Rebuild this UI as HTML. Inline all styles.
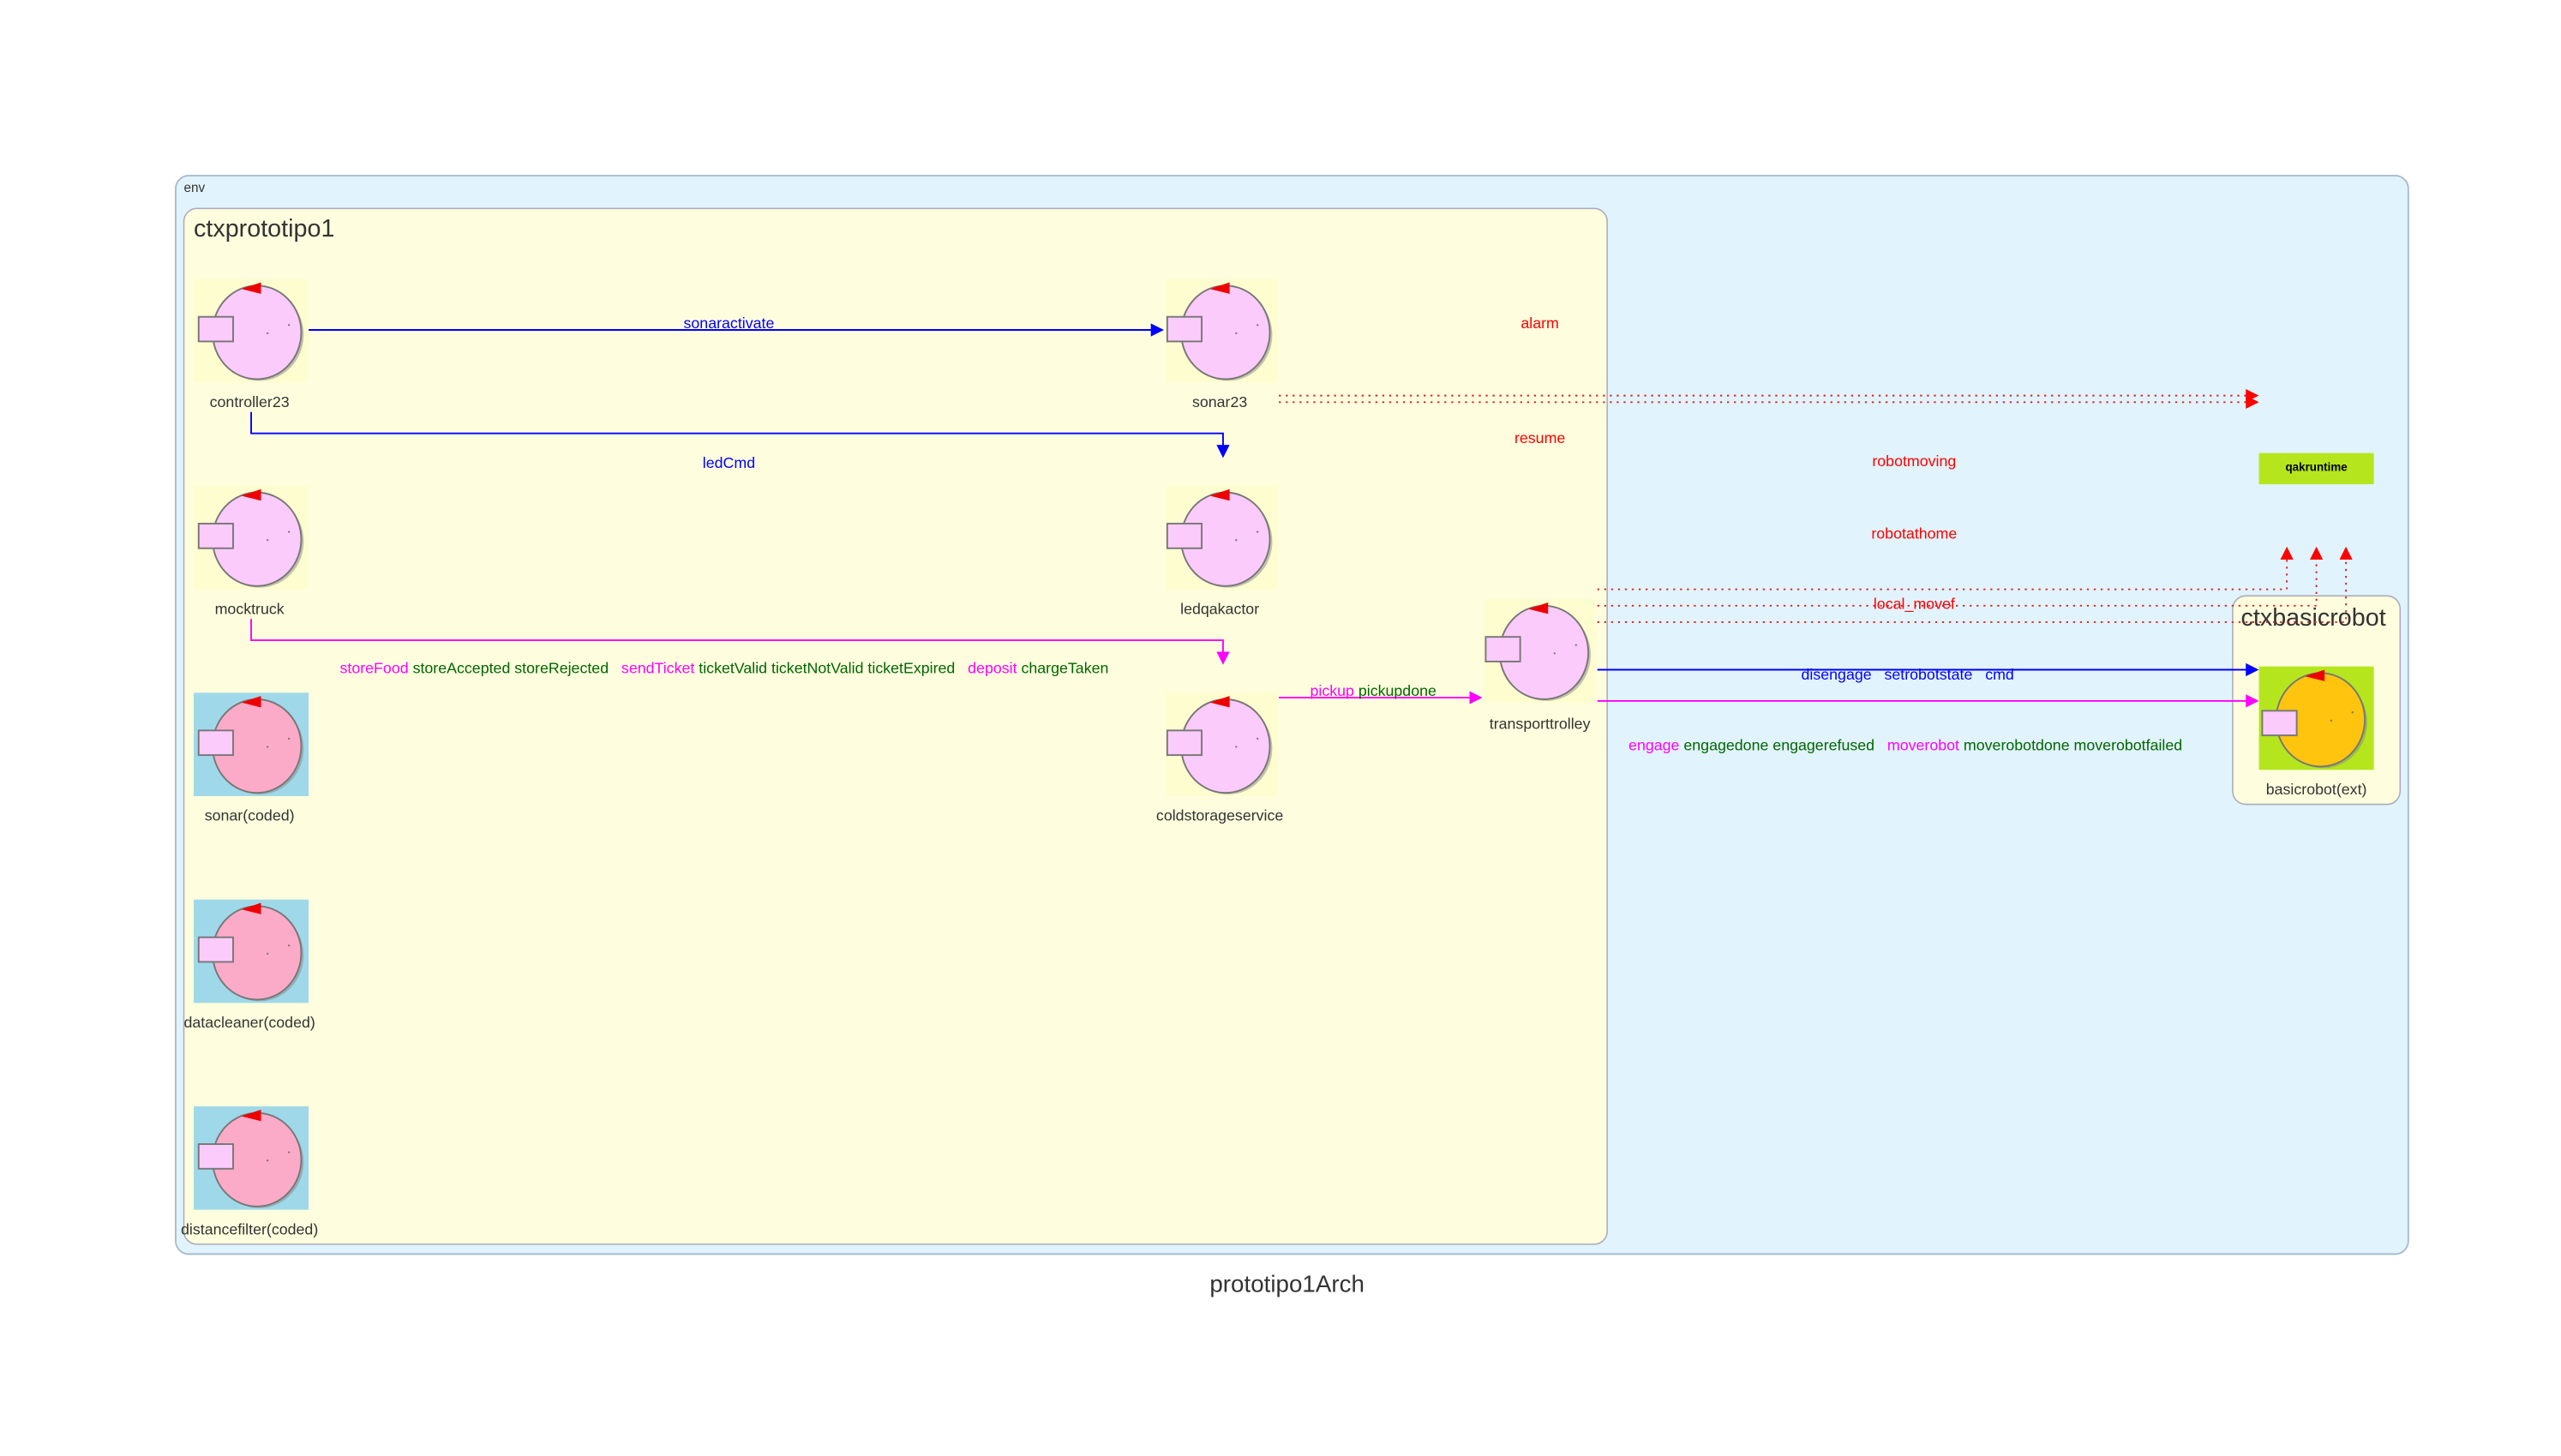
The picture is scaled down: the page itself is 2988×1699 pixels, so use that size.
<!DOCTYPE html>
<html><head><meta charset="utf-8"><style>
html,body{margin:0;padding:0;background:#fff;}
svg{display:block;}
text{font-family:"Liberation Sans",sans-serif;white-space:pre;}
</style></head><body>
<svg width="2988" height="1699" viewBox="0 0 1560 887" xmlns="http://www.w3.org/2000/svg" xml:space="preserve">
<defs>
<marker id="ab" markerWidth="8" markerHeight="8" refX="7" refY="4" orient="auto" markerUnits="userSpaceOnUse"><path d="M0,0 L8,4 L0,8 z" fill="#0000ff"/></marker>
<marker id="am" markerWidth="8" markerHeight="8" refX="7" refY="4" orient="auto" markerUnits="userSpaceOnUse"><path d="M0,0 L8,4 L0,8 z" fill="#ff00ff"/></marker>
<marker id="ar" markerWidth="8" markerHeight="8" refX="7" refY="4" orient="auto" markerUnits="userSpaceOnUse"><path d="M0,0 L8,4 L0,8 z" fill="#ff0000"/></marker>
<g id="actor">
<ellipse cx="40" cy="33" rx="27" ry="28" fill="#888" opacity="0.5"/>
<ellipse cx="38.5" cy="31.5" rx="27" ry="28.5" fill="#fbcbfb" stroke="#777" stroke-width="1"/>
<path d="M29,5 L41,1 L41,8 z" fill="#ee0000"/>
<rect x="3" y="22" width="21" height="15" fill="#fbcbfb" stroke="#777" stroke-width="1"/>
<circle cx="45" cy="32" r="0.6" fill="#777"/><circle cx="58" cy="27" r="0.6" fill="#777"/>
</g>
<g id="coded">
<ellipse cx="40" cy="33" rx="27" ry="28" fill="#888" opacity="0.5"/>
<ellipse cx="38.5" cy="31.5" rx="27" ry="28.5" fill="#fbabc8" stroke="#777" stroke-width="1"/>
<path d="M29,5 L41,1 L41,8 z" fill="#ee0000"/>
<rect x="3" y="22" width="21" height="15" fill="#fbcbfb" stroke="#777" stroke-width="1"/>
<circle cx="45" cy="32" r="0.6" fill="#777"/><circle cx="58" cy="27" r="0.6" fill="#777"/>
</g>
<g id="robot">
<ellipse cx="40" cy="33" rx="27" ry="28" fill="#888" opacity="0.5"/>
<ellipse cx="38.5" cy="31.5" rx="27" ry="28.5" fill="#ffc40e" stroke="#777" stroke-width="1"/>
<path d="M29,5 L41,1 L41,8 z" fill="#ee0000"/>
<rect x="3" y="26" width="21" height="15" fill="#fbcbfb" stroke="#777" stroke-width="1"/>
<circle cx="45" cy="32" r="0.6" fill="#777"/><circle cx="58" cy="27" r="0.6" fill="#777"/>
</g>
</defs>
<rect width="1560" height="887" fill="#fff"/>
<rect x="107" y="107" width="1360" height="657" rx="8" fill="#e1f3fc" stroke="#a9bccb" stroke-width="1"/>
<text x="112" y="117" font-size="8" fill="#333">env</text>
<rect x="112" y="127" width="867" height="631" rx="8" fill="#fefede" stroke="#aab" stroke-width="0.8"/>
<text x="118" y="144" font-size="15" fill="#333">ctxprototipo1</text>
<rect x="1360" y="363" width="102" height="127" rx="8" fill="#fefede" stroke="#aab" stroke-width="0.8"/>
<text x="1365" y="381" font-size="15" fill="#333">ctxbasicrobot</text>

<g font-size="9.3" fill="#333" text-anchor="middle">
<rect x="118" y="170" width="70" height="63" fill="#fdfdd0"/><use href="#actor" x="118" y="171"/><text x="152" y="248">controller23</text>
<rect x="710" y="170" width="68" height="63" fill="#fdfdd0"/><use href="#actor" x="708" y="171"/><text x="743" y="248">sonar23</text>
<rect x="118" y="296" width="70" height="63" fill="#fdfdd0"/><use href="#actor" x="118" y="297"/><text x="152" y="374">mocktruck</text>
<rect x="710" y="296" width="68" height="63" fill="#fdfdd0"/><use href="#actor" x="708" y="297"/><text x="743" y="374">ledqakactor</text>
<rect x="118" y="422" width="70" height="63" fill="#9fd9e9"/><use href="#coded" x="118" y="423"/><text x="152" y="500">sonar(coded)</text>
<rect x="710" y="422" width="68" height="63" fill="#fdfdd0"/><use href="#actor" x="708" y="423"/><text x="743" y="500">coldstorageservice</text>
<rect x="118" y="548" width="70" height="63" fill="#9fd9e9"/><use href="#coded" x="118" y="549"/><text x="152" y="626">datacleaner(coded)</text>
<rect x="118" y="674" width="70" height="63" fill="#9fd9e9"/><use href="#coded" x="118" y="675"/><text x="152" y="752">distancefilter(coded)</text>
<rect x="904" y="365" width="68" height="63" fill="#fdfdd0"/><use href="#actor" x="902" y="366"/><text x="938" y="444">transporttrolley</text>
<rect x="1376" y="406" width="70" height="63" fill="#b5e61d"/><use href="#robot" x="1375" y="407"/><text x="1411" y="484">basicrobot(ext)</text>
</g>
<rect x="1376" y="276" width="70" height="19" fill="#b5e61d"/>
<text x="1411" y="287" font-size="7" font-weight="bold" text-anchor="middle" fill="#000">qakruntime</text>

<g fill="none" stroke-width="1">
<path d="M188,201 H708" stroke="#0000ff" marker-end="url(#ab)"/>
<path d="M153,251 V264 H745 V278" stroke="#0000ff" marker-end="url(#ab)"/>
<path d="M153,377 V390 H745 V404" stroke="#ff00ff" marker-end="url(#am)"/>
<path d="M779,425 H902" stroke="#ff00ff" marker-end="url(#am)"/>
<path d="M779,241 H1375" stroke="#dd2222" stroke-dasharray="1.2,3" marker-end="url(#ar)"/>
<path d="M779,245 H1375" stroke="#dd2222" stroke-dasharray="1.2,3" marker-end="url(#ar)"/>
<path d="M973,359 H1393 V334" stroke="#dd2222" stroke-dasharray="1.2,3" marker-end="url(#ar)"/>
<path d="M973,369 H1411 V334" stroke="#dd2222" stroke-dasharray="1.2,3" marker-end="url(#ar)"/>
<path d="M973,379 H1429 V334" stroke="#dd2222" stroke-dasharray="1.2,3" marker-end="url(#ar)"/>
<path d="M973,408 H1375" stroke="#0000ff" marker-end="url(#ab)"/>
<path d="M973,427 H1375" stroke="#ff00ff" marker-end="url(#am)"/>
</g>

<g font-size="9.3">
<text x="444" y="200" text-anchor="middle" fill="#0000ff">sonaractivate</text>
<text x="444" y="285" text-anchor="middle" fill="#0000ff">ledCmd</text>
<text x="207" y="410"><tspan fill="#ff00ff">storeFood</tspan><tspan fill="#006600"> storeAccepted storeRejected   </tspan><tspan fill="#ff00ff">sendTicket</tspan><tspan fill="#006600"> ticketValid ticketNotValid ticketExpired   </tspan><tspan fill="#ff00ff">deposit</tspan><tspan fill="#006600"> chargeTaken</tspan></text>
<text x="798" y="424"><tspan fill="#ff00ff">pickup</tspan><tspan fill="#006600"> pickupdone</tspan></text>
<text x="938" y="200" text-anchor="middle" fill="#ff0000">alarm</text>
<text x="938" y="270" text-anchor="middle" fill="#ff0000">resume</text>
<text x="1166" y="284" text-anchor="middle" fill="#ff0000">robotmoving</text>
<text x="1166" y="328" text-anchor="middle" fill="#ff0000">robotathome</text>
<text x="1166" y="371" text-anchor="middle" fill="#ff0000">local_movef</text>
<text x="1162" y="414" text-anchor="middle" fill="#0000ff">disengage   setrobotstate   cmd</text>
<text x="992" y="457"><tspan fill="#ff00ff">engage</tspan><tspan fill="#006600"> engagedone engagerefused   </tspan><tspan fill="#ff00ff">moverobot</tspan><tspan fill="#006600"> moverobotdone moverobotfailed</tspan></text>
</g>
<text x="784" y="787" font-size="14.5" text-anchor="middle" fill="#333">prototipo1Arch</text>
</svg>
</body></html>
